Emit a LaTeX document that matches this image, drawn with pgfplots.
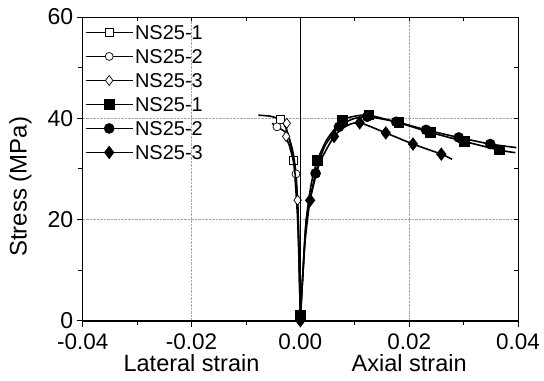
\documentclass[border=0pt]{standalone}
\usepackage{pgfplots}
\pgfplotsset{compat=1.18}
\usepackage{fontspec}
\setmainfont{Liberation Sans}
\begin{document}
\begin{tikzpicture}
\pgfplotsset{
  common/.style={
    scale only axis, width=435.3pt, height=303.7pt,
    xmin=-0.04, xmax=0.04, ymin=0, ymax=60,
    xtick={-0.04,-0.02,0,0.02,0.04}, ytick={0,20,40,60},
    minor x tick num=1, minor y tick num=1,
    scaled x ticks=false, scaled y ticks=false,
    axis line style={line width=0.8pt},
    major tick length=6pt, minor tick length=4.3pt,
    every tick/.style={black, line width=0.8pt},
  },
}
\begin{axis}[common, name=ax, clip mode=individual,
  xtick pos=bottom, ytick pos=left, tick align=outside,
  grid=major, major grid style={gray!70, densely dotted, line width=0.7pt},
  /pgf/number format/assume math mode=true,
  xticklabel style={/pgf/number format/fixed, /pgf/number format/zerofill, /pgf/number format/precision=2, font=\fontsize{22.5}{26}\selectfont, inner sep=1pt, yshift=-6pt},
  yticklabel style={font=\fontsize{23}{26}\selectfont},
  legend style={at={(rel axis cs:0,1)}, anchor=north west, draw=none, fill=none,
    inner sep=0pt, font=\fontsize{20}{24}\selectfont, yshift=-8pt, xshift=2pt,
    nodes={text height=14.5pt, text depth=0pt, inner ysep=0pt, inner xsep=1.5pt}, row sep=9.5pt},
  legend cell align=left,
  legend image code/.code={\draw[#1, mark=none] (0pt,0pt) -- (47pt,0pt); \draw[#1] plot coordinates {(23.5pt,0pt)};},
]
% Lateral (open markers)
\addplot[black, line width=1.6pt, smooth, tension=0.4, mark=square*, mark size=4pt, mark options={solid, fill=white, line width=0.7pt}, mark indices={1,5,8}]
coordinates {(0,1) (-0.0002,10) (-0.0005,20) (-0.0009,27) (-0.0012,31.6) (-0.0018,35) (-0.0026,38) (-0.0037,39.7) (-0.0055,40.4) (-0.0077,40.6)};
\addlegendentry{NS25-1}
\addplot[black, line width=1.6pt, smooth, tension=0.4, mark=*, mark size=4pt, mark options={solid, fill=white, line width=0.7pt}, mark indices={1,4,7}]
coordinates {(0,0.5) (-0.0002,10) (-0.0004,20) (-0.0008,29.0) (-0.0015,34) (-0.0025,37) (-0.0043,38.3) (-0.0052,39.0)};
\addlegendentry{NS25-2}
\addplot[black, line width=1.6pt, smooth, tension=0.4, mark=diamond*, mark size=5pt, mark options={solid, fill=white, line width=0.7pt}, mark indices={1,3,6,7}]
coordinates {(0,0) (-0.0002,12) (-0.0005,23.8) (-0.0012,31) (-0.0020,34.5) (-0.0026,36.4) (-0.0025,39.0)};
\addlegendentry{NS25-3}
% Axial (filled markers)
\addplot[black, line width=1.6pt, smooth, tension=0.4, mark=square*, mark size=4.5pt, mark options={solid, fill=black}, mark indices={1,5,7,9,10,11,12,13}]
coordinates {(0,1) (0.0005,10) (0.0011,20) (0.002,27) (0.0031,31.6) (0.005,36) (0.0078,39.6) (0.0100,40.4) (0.0126,40.6) (0.0181,39.1) (0.0239,37.2) (0.0302,35.4) (0.0366,33.7) (0.0395,33.2)};
\addlegendentry{NS25-1}
\addplot[black, line width=1.6pt, smooth, tension=0.4, mark=*, mark size=4.5pt, mark options={solid, fill=black}, mark indices={1,4,6,8,9,10,11,12}]
coordinates {(0,0.5) (0.0005,10) (0.0011,20) (0.0028,29.1) (0.0045,34.5) (0.0071,38.3) (0.0095,39.8) (0.0123,40.3) (0.0176,39.3) (0.0231,37.7) (0.0291,36.2) (0.0349,34.9) (0.0397,34.2)};
\addlegendentry{NS25-2}
\addplot[black, line width=1.6pt, smooth, tension=0.4, mark=diamond*, mark size=5.5pt, mark options={solid, fill=black}, mark indices={1,4,6,8,9,10,11}]
coordinates {(0,0) (0.0004,8) (0.0009,16) (0.0018,23.8) (0.0035,31) (0.0062,36.4) (0.0085,38.5) (0.0109,39.1) (0.0157,37.1) (0.0207,34.9) (0.0259,32.9) (0.0279,31.9)};
\addlegendentry{NS25-3}
\draw[line width=0.8pt] (axis cs:0,0) -- (axis cs:0,60);
\draw[line width=2pt] (rel axis cs:0,0) -- (rel axis cs:1,0);
\node[anchor=base, inner sep=0pt, font=\fontsize{23.5}{28}\selectfont] at ([yshift=-51pt]axis cs:-0.02,0) {Lateral strain};
\node[anchor=base, inner sep=0pt, font=\fontsize{23.5}{28}\selectfont] at ([yshift=-51pt]axis cs:0.02,0) {Axial strain};
\node[rotate=90, anchor=south, inner sep=0pt, font=\fontsize{24}{28}\selectfont] at ([xshift=-51pt]rel axis cs:0,0.441) {Stress (MPa)};
\end{axis}
\begin{axis}[common,
  xtick pos=top, ytick pos=right, tick align=inside,
  xticklabels={}, yticklabels={}, major tick length=4.5pt, minor tick length=4.5pt,
]
\end{axis}
\pgfresetboundingbox
\path ([shift={(-82.7pt,-59.3pt)}]ax.south west) rectangle ([shift={(26pt,17pt)}]ax.north east);
\end{tikzpicture}
\end{document}
